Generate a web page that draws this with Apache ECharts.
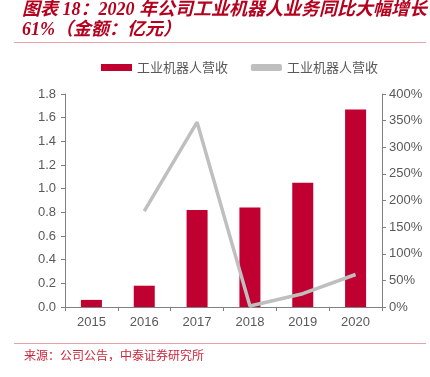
<!DOCTYPE html>
<html><head><meta charset="utf-8">
<script src="https://cdn.jsdelivr.net/npm/echarts@6/dist/echarts.min.js"></script>
<style>html,body{margin:0;padding:0;background:#fff}#c{width:430px;height:377px}</style>
</head><body><div id="c"></div>
<script>
var categories = ['2015','2016','2017','2018','2019','2020'];
var revenue = [0.06, 0.18, 0.82, 0.84, 1.05, 1.67];
var growth = [null, 180, 347, 2, 25, 61];
var leftTicks = [0, 1.8, 0.2];
var rightTicks = [0, 400, 50];
var seriesName = '工业机器人营收';

var chart = echarts.init(document.getElementById('c'));
chart.setOption({
  animation: false,
  graphic: [
    {type:'text', left:22, top:1, style:{text:'图表 18：2020 年公司工业机器人业务同比大幅增长', fill:'#B5001E', font:'italic bold 18px "Liberation Serif","Noto Sans CJK SC"'}},
    {type:'text', left:22, top:21, style:{text:'61%（金额：亿元）', fill:'#B5001E', font:'italic bold 18px "Liberation Serif","Noto Sans CJK SC"'}},
    {type:'rect', shape:{x:14, y:42, width:412, height:1}, style:{fill:'#E3A3A8'}},
    {type:'rect', shape:{x:14, y:343, width:412, height:1}, style:{fill:'#E3A3A8'}},
    {type:'text', left:24, top:349, style:{text:'来源：公司公告，中泰证券研究所', fill:'#C8283C', font:'12px "Noto Sans CJK SC"'}}
  ],
  legend: {
    top: 56, left: 96, itemGap: 20, itemWidth: 31, itemHeight: 7,
    textStyle: {color:'#595959', fontSize: 13, fontFamily:'"Noto Sans CJK SC"'},
    data: [
      {name: seriesName + ' ', icon:'rect'},
      {name: seriesName, icon:'roundRect', itemStyle:{color:'#BFBFBF'}}
    ]
  },
  grid: {left: 65, right: 48, top: 94, bottom: 70},
  xAxis: {
    type:'category', data: categories,
    axisLine:{lineStyle:{color:'#808080'}},
    axisTick:{show:true, alignWithLabel:false, lineStyle:{color:'#808080'}, length:4},
    axisLabel:{color:'#595959', fontSize:13, fontFamily:'"Liberation Sans", Arial', margin:9}
  },
  yAxis: [
    {type:'value', min:leftTicks[0], max:leftTicks[1], interval:leftTicks[2],
     axisLine:{show:true, lineStyle:{color:'#808080'}},
     axisTick:{show:true, length:4, lineStyle:{color:'#808080'}},
     splitLine:{show:false},
     axisLabel:{color:'#595959', fontSize:13, fontFamily:'"Liberation Sans", Arial', margin:9,
       formatter:function(v){return v.toFixed(1);}}},
    {type:'value', min:rightTicks[0], max:rightTicks[1], interval:rightTicks[2], position:'right',
     axisLine:{show:true, lineStyle:{color:'#808080'}},
     axisTick:{show:true, length:4, lineStyle:{color:'#808080'}},
     splitLine:{show:false},
     axisLabel:{color:'#595959', fontSize:13, fontFamily:'"Liberation Sans", Arial', margin:7,
       formatter:'{value}%'}}
  ],
  series: [
    {name: seriesName + ' ', type:'bar', data: revenue, barWidth: 21, itemStyle:{color:'#C00030'}, yAxisIndex:0},
    {name: seriesName, type:'line', data: growth, yAxisIndex:1, symbol:'none',
     lineStyle:{color:'#BFBFBF', width:3.5}, itemStyle:{color:'#BFBFBF'}}
  ]
});
</script></body></html>
